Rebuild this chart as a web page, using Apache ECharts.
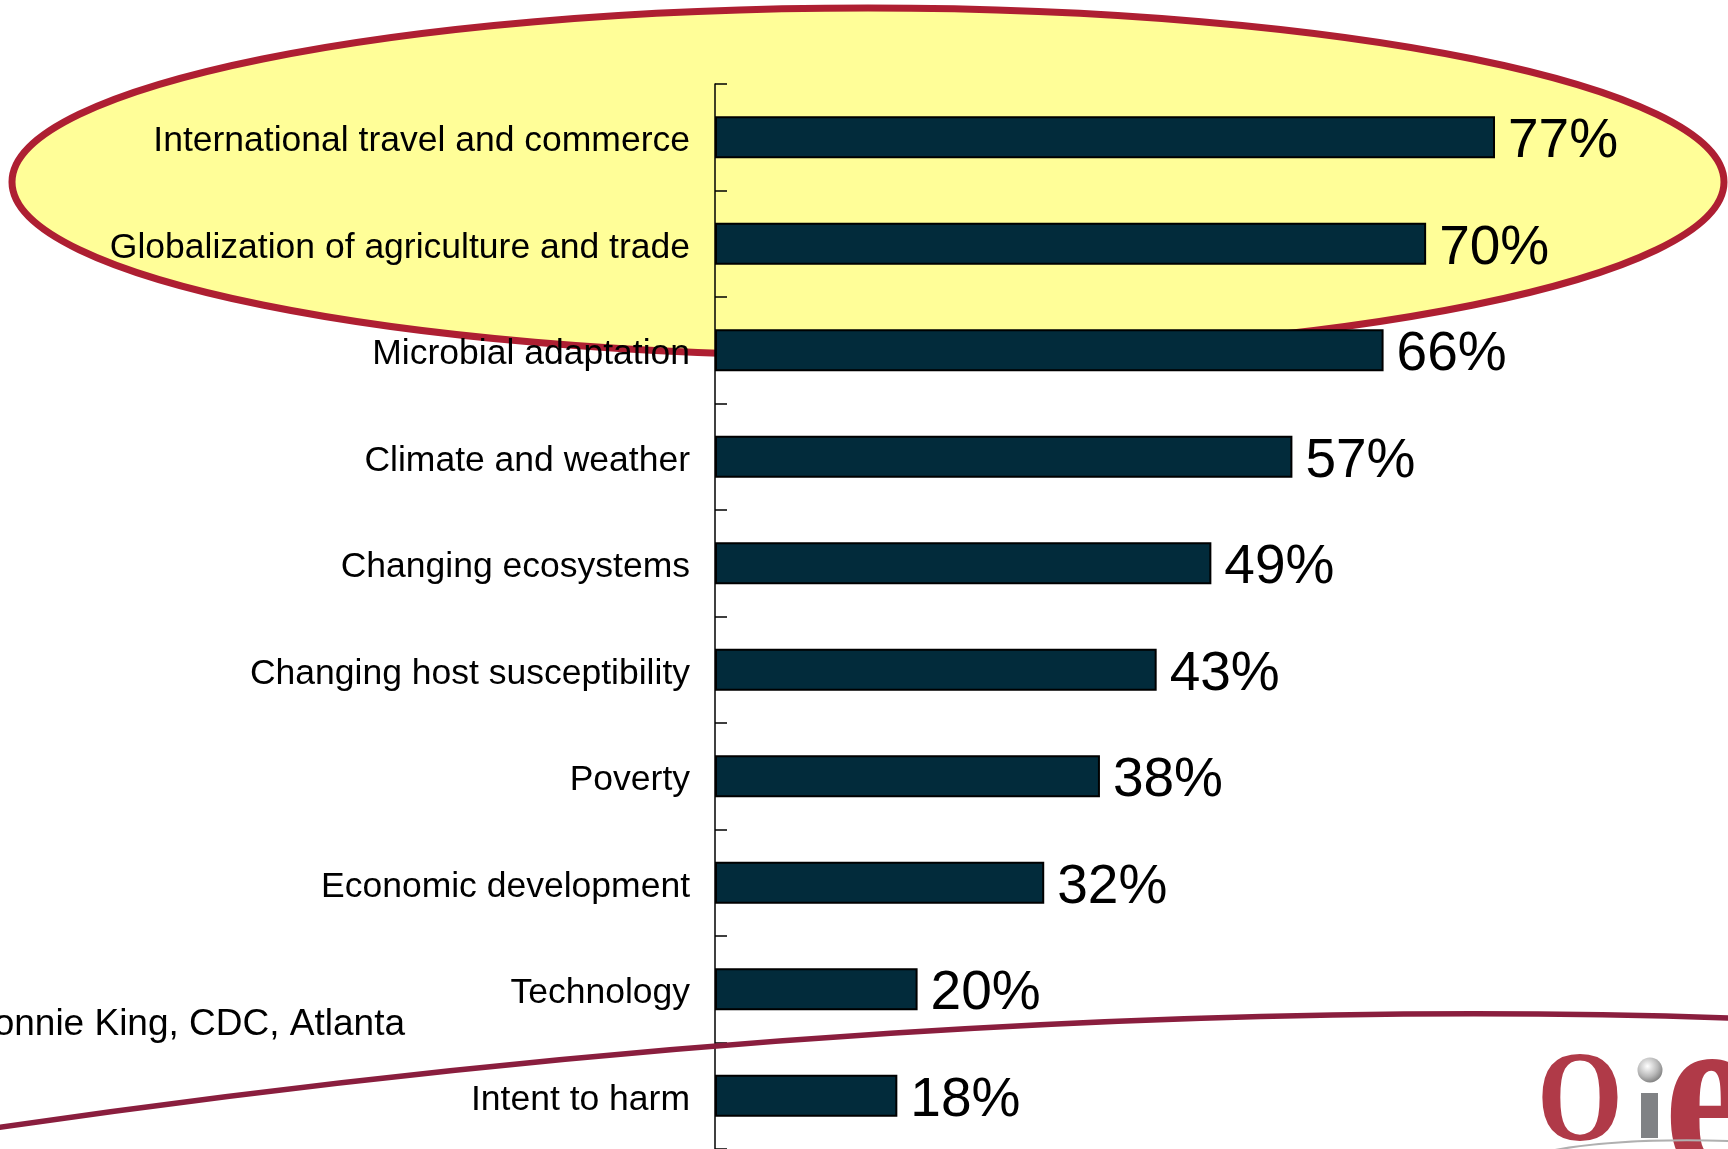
<!DOCTYPE html>
<html>
<head>
<meta charset="utf-8">
<script src="https://cdn.jsdelivr.net/npm/echarts@6/dist/echarts.min.js"></script>
<style>
html,body{margin:0;padding:0;background:#fff;}
#chart{width:1728px;height:1149px;}
</style>
</head>
<body>
<div id="chart"></div>
<script>
const categories = [
  'International travel and commerce',
  'Globalization of agriculture and trade',
  'Microbial adaptation',
  'Climate and weather',
  'Changing ecosystems',
  'Changing host susceptibility',
  'Poverty',
  'Economic development',
  'Technology',
  'Intent to harm'
];
// bar lengths (percent)
const values = [77, 70.2, 66, 57, 49, 43.6, 38, 32.5, 20, 18];
// value labels as printed on the chart
const valueLabels = ['77%', '70%', '66%', '57%', '49%', '43%', '38%', '32%', '20%', '18%'];
const sourceText = 'Bonnie King, CDC, Atlanta';

const chart = echarts.init(document.getElementById('chart'), null, {renderer: 'canvas'});
const FONT = '"Liberation Sans", Arial, sans-serif';
const SERIF = '"Liberation Serif", "DejaVu Serif", serif';

chart.setOption({
  backgroundColor: '#ffffff',
  animation: false,
  grid: {left: 715, right: 0, top: 84, bottom: -5, containLabel: false},
  xAxis: {
    type: 'value', min: 0, max: 100, show: false
  },
  yAxis: {
    type: 'category',
    data: categories,
    inverse: true,
    axisLine: {show: true, lineStyle: {color: '#000', width: 1.5}},
    axisTick: {show: true, inside: true, length: 12, lineStyle: {color: '#000', width: 1.5}},
    axisLabel: {
      margin: 25, color: '#000', fontSize: 35.5, fontFamily: FONT,
      formatter: v => '{a|' + v + '}',
      rich: {a: {fontSize: 35.5, fontFamily: FONT, color: '#000', padding: [8, 0, 0, 0]}}
    },
    splitLine: {show: false}
  },
  series: [{
    type: 'bar',
    data: values,
    barWidth: 42,
    itemStyle: {color: '#022B3B', borderColor: '#000', borderWidth: 2},
    label: {
      show: true, position: 'right', distance: 13, offset: [0, 5],
      formatter: p => valueLabels[p.dataIndex],
      color: '#000', fontSize: 55, fontFamily: FONT
    },
    z: 3
  }],
  graphic: [
    {
      type: 'ellipse', z: -10, silent: true,
      shape: {cx: 868, cy: 182, rx: 856, ry: 174},
      style: {fill: '#FFFE98', stroke: '#AE1F32', lineWidth: 7}
    },
    {
      type: 'bezierCurve', z: 1, silent: true,
      shape: {x1: -5, y1: 1128, cpx1: 600, cpy1: 1040, cpx2: 1200, cpy2: 1000, x2: 1730, y2: 1018},
      style: {fill: null, stroke: '#8A1E3E', lineWidth: 5.5}
    },
    {
      type: 'text', z: 1, silent: true,
      style: {x: 405, y: 1025, text: sourceText, textAlign: 'right', textVerticalAlign: 'middle',
        fontSize: 37, fontFamily: FONT, fill: '#000'}
    },
    {
      type: 'text', z: 1, silent: true, x: 1580, y: 1106, scaleX: 0.85,
      style: {x: 0, y: 0, text: 'O', textAlign: 'center', textVerticalAlign: 'middle',
        fontSize: 130, fontWeight: 'bold', fontFamily: SERIF, fill: '#B03A48'}
    },
    {
      type: 'rect', z: 1, silent: true,
      shape: {x: 1641, y: 1093, width: 17, height: 45},
      style: {fill: '#808285'}
    },
    {
      type: 'circle', z: 1, silent: true,
      shape: {cx: 1650, cy: 1070, r: 12.5},
      style: {fill: {type: 'radial', x: 0.4, y: 0.35, r: 0.7, colorStops: [
        {offset: 0, color: '#ffffff'}, {offset: 0.6, color: '#b8b8b8'}, {offset: 1, color: '#7a7a7a'}]}}
    },
    {
      type: 'text', z: 1, silent: true, x: 1664, y: 1110, scaleY: 1.2,
      style: {x: 0, y: 0, text: 'e', textAlign: 'left', textVerticalAlign: 'middle',
        fontSize: 200, fontWeight: 'bold', fontFamily: SERIF, fill: '#B03A48'}
    },
    {
      type: 'bezierCurve', z: 1, silent: true,
      shape: {x1: 1555, y1: 1150, cpx1: 1600, cpy1: 1142, cpx2: 1660, cpy2: 1139, x2: 1728, y2: 1141},
      style: {fill: null, stroke: '#b0b0b0', lineWidth: 2}
    }
  ]
});
</script>
</body>
</html>
